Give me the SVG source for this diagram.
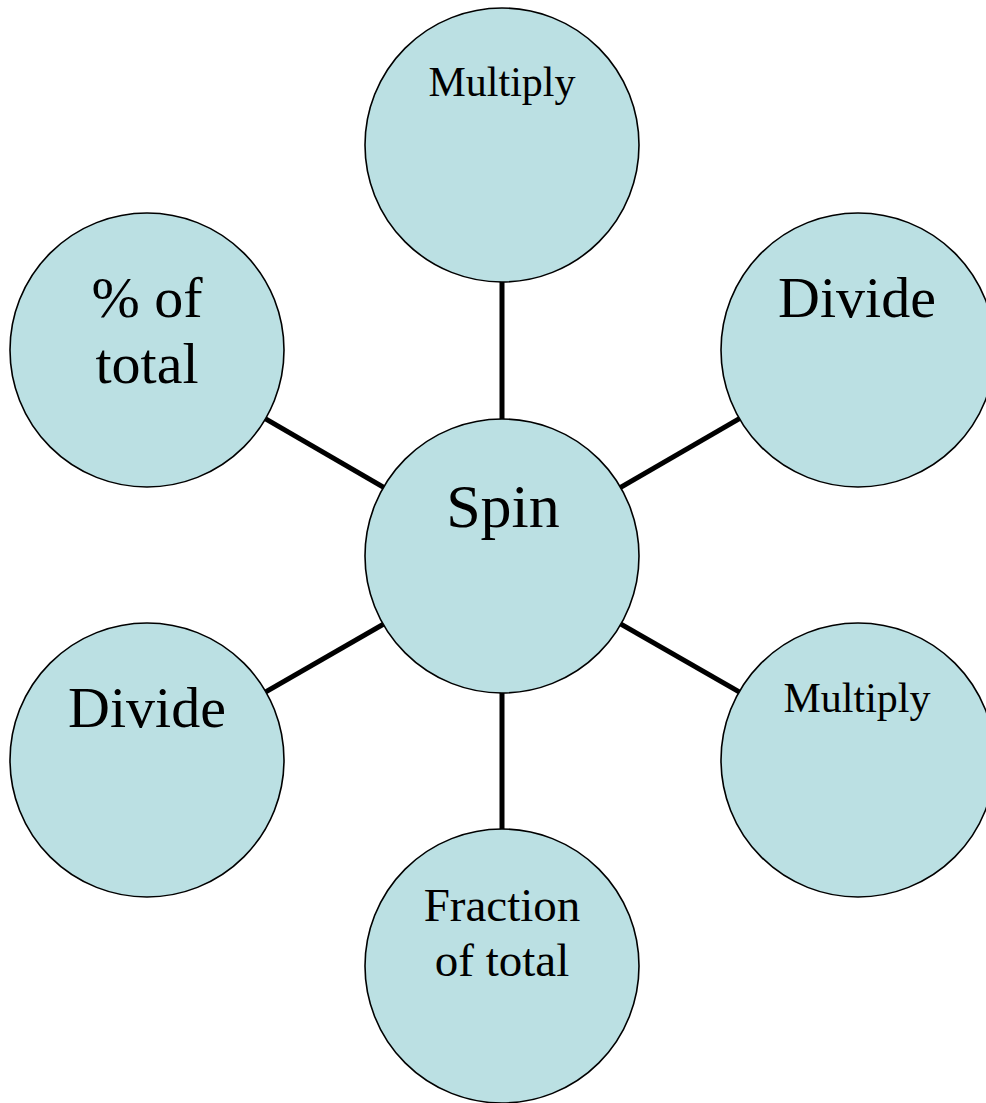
<svg xmlns="http://www.w3.org/2000/svg" width="986" height="1103" viewBox="0 0 986 1103">
<style>
.n{fill:#BBE0E3;stroke:#000;stroke-width:1.6}
.c{stroke:#000;stroke-width:5;fill:none}
text{font-family:"Liberation Serif","Times New Roman",serif;fill:#000;text-anchor:middle}
</style>
<rect width="986" height="1103" fill="#fff"/>
<g id="connectors">
<line class="c" x1="502" y1="556" x2="502" y2="145"/>
<line class="c" x1="502" y1="556" x2="858" y2="350"/>
<line class="c" x1="502" y1="556" x2="858" y2="760"/>
<line class="c" x1="502" y1="556" x2="502" y2="966"/>
<line class="c" x1="502" y1="556" x2="147" y2="760"/>
<line class="c" x1="502" y1="556" x2="147" y2="350"/>
</g>
<g id="spin"><circle class="n" cx="502" cy="556" r="137"/><text x="503" y="527" font-size="62">Spin</text></g>
<g id="multiply-top"><circle class="n" cx="502" cy="145" r="137"/><text x="502" y="96" font-size="42">Multiply</text></g>
<g id="divide-right"><circle class="n" cx="858" cy="350" r="137"/><text x="857" y="317" font-size="58">Divide</text></g>
<g id="multiply-right"><circle class="n" cx="858" cy="760" r="137"/><text x="857" y="712" font-size="42">Multiply</text></g>
<g id="fraction"><circle class="n" cx="502" cy="966" r="137"/><text x="502" y="921" font-size="47">Fraction</text><text x="502" y="976" font-size="47">of total</text></g>
<g id="divide-left"><circle class="n" cx="147" cy="760" r="137"/><text x="147" y="727" font-size="58">Divide</text></g>
<g id="percent"><circle class="n" cx="147" cy="350" r="137"/><text x="147" y="317" font-size="58">% of</text><text x="147" y="383" font-size="58">total</text></g>
</svg>
